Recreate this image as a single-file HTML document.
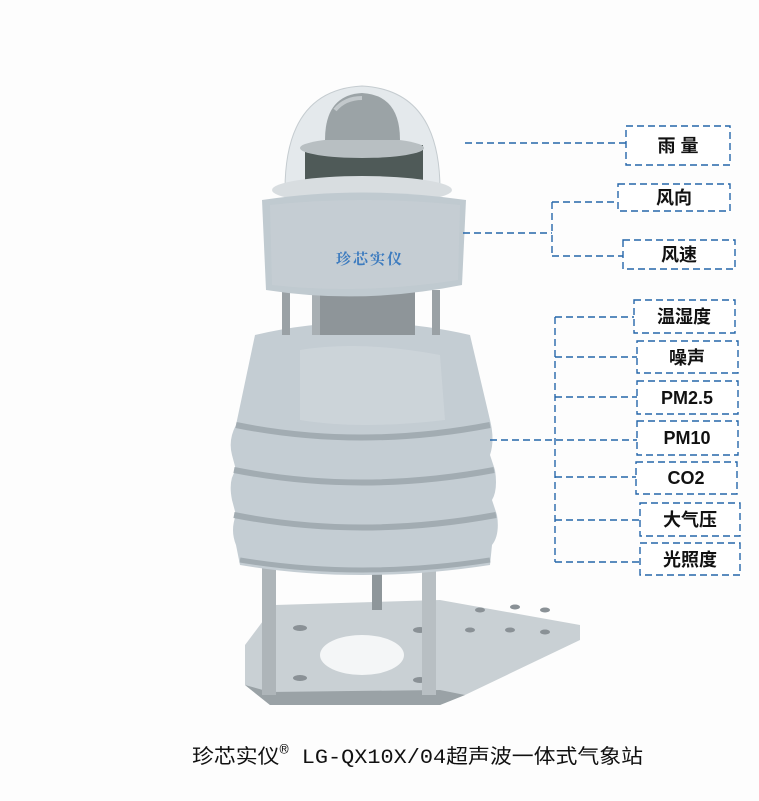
<!DOCTYPE html>
<html><head><meta charset="utf-8"><style>
html,body{margin:0;padding:0;background:#fdfdfd;}
svg{display:block}
.b{fill:#fff;stroke:#2566aa;stroke-width:1.4;stroke-dasharray:7,4}
.l{fill:none;stroke:#2566aa;stroke-width:1.4;stroke-dasharray:7,4}
.t{font-family:"Liberation Sans","Noto Sans CJK SC",sans-serif;font-weight:bold;font-size:18px;fill:#111;text-anchor:middle}
</style></head><body>
<svg width="759" height="801" viewBox="0 0 759 801" xmlns="http://www.w3.org/2000/svg">
<rect width="759" height="801" fill="#fdfdfd"/>
<!-- base plate -->
<polygon points="245,645 275,605 440,600 580,625 580,640 465,695 440,705 270,705 245,685" fill="#c9d0d4"/>
<polygon points="245,685 270,705 440,705 465,695 440,690 270,692" fill="#9aa2a6"/>
<ellipse cx="362" cy="655" rx="42" ry="20" fill="#f4f6f7"/>
<g fill="#8a9196">
<ellipse cx="480" cy="610" rx="5" ry="2.5"/><ellipse cx="515" cy="607" rx="5" ry="2.5"/><ellipse cx="545" cy="610" rx="5" ry="2.5"/>
<ellipse cx="470" cy="630" rx="5" ry="2.5"/><ellipse cx="510" cy="630" rx="5" ry="2.5"/><ellipse cx="545" cy="632" rx="5" ry="2.5"/>
<ellipse cx="300" cy="628" rx="7" ry="3"/><ellipse cx="420" cy="630" rx="7" ry="3"/><ellipse cx="300" cy="678" rx="7" ry="3"/><ellipse cx="420" cy="680" rx="7" ry="3"/>
</g>
<!-- legs -->
<rect x="262" y="565" width="14" height="130" fill="#aeb5b9"/>
<rect x="422" y="565" width="14" height="130" fill="#b8bfc3"/>
<rect x="372" y="570" width="10" height="40" fill="#8e969a"/>
<!-- body -->
<path d="M255,335 Q360,310 470,335 L490,420 Q495,440 490,455 L495,470 Q498,490 492,500 L497,515 Q500,535 492,545 L490,565 Q360,585 240,565 L236,545 Q230,530 236,515 L232,500 Q228,480 236,470 L232,455 Q228,440 236,425 Z" fill="#c4cdd3"/>
<path d="M236,425 Q360,450 490,425" fill="none" stroke="#a2acb2" stroke-width="6"/>
<path d="M234,470 Q360,495 494,470" fill="none" stroke="#a2acb2" stroke-width="6"/>
<path d="M234,515 Q360,540 496,515" fill="none" stroke="#a2acb2" stroke-width="6"/>
<path d="M240,560 Q360,580 490,560" fill="none" stroke="#a2acb2" stroke-width="5"/>
<path d="M300,350 Q360,340 440,355 L445,420 Q360,430 300,420 Z" fill="#d2d9dd" opacity="0.6"/>
<!-- gap + rods -->
<rect x="320" y="290" width="95" height="45" fill="#8e9599"/>
<rect x="282" y="290" width="8" height="45" fill="#9aa1a5"/>
<rect x="312" y="290" width="8" height="45" fill="#a8afb3"/>
<rect x="432" y="290" width="8" height="45" fill="#9aa1a5"/>
<!-- dome -->
<path d="M285,190 Q285,90 362,86 Q440,90 440,190 Z" fill="#e4e9ec" stroke="#c5ccd0"/>
<rect x="305" y="145" width="118" height="40" fill="#4f5a58"/>
<ellipse cx="362" cy="148" rx="62" ry="10" fill="#b8bfc2"/>
<path d="M325,140 Q325,95 362,93 Q400,95 400,140 Z" fill="#9ba3a6"/>
<path d="M335,110 Q345,98 362,98" fill="none" stroke="#c2c8cb" stroke-width="4"/>
<ellipse cx="362" cy="190" rx="90" ry="14" fill="#d8dde0"/>
<!-- top cylinder -->
<path d="M262,200 Q362,185 466,200 L462,285 Q362,305 266,290 Z" fill="#c0cad0"/>
<path d="M270,205 Q362,195 460,205 L458,280 Q362,295 272,285 Z" fill="#c7cfd4" opacity="0.7"/>
<text x="370" y="264" font-family="Liberation Serif,'Noto Serif CJK SC',serif" font-size="15" font-weight="bold" fill="#3c7bbf" text-anchor="middle" letter-spacing="2">珍芯实仪</text>
<!-- connectors -->
<path class="l" d="M465,143 H626"/>
<path class="l" d="M463,233 H552 M552,202 V256 M552,202 H618 M552,256 H623"/>
<path class="l" d="M490,440 H637 M555,317 V562 M555,317 H634 M555,357 H637 M555,397 H637 M555,477 H636 M555,520 H640 M555,562 H640"/>
<!-- boxes -->
<rect class="b" x="626" y="126" width="104" height="39"/><text class="t" x="678" y="152">雨 量</text>
<rect class="b" x="618" y="184" width="112" height="27"/><text class="t" x="674" y="204">风向</text>
<rect class="b" x="623" y="240" width="112" height="29"/><text class="t" x="679" y="261">风速</text>
<rect class="b" x="634" y="300" width="101" height="33"/><text class="t" x="684" y="323">温湿度</text>
<rect class="b" x="637" y="341" width="101" height="32"/><text class="t" x="687" y="364">噪声</text>
<rect class="b" x="637" y="381" width="101" height="33"/><text class="t" x="687" y="404">PM2.5</text>
<rect class="b" x="637" y="421" width="101" height="34"/><text class="t" x="687" y="444">PM10</text>
<rect class="b" x="636" y="462" width="101" height="32"/><text class="t" x="686" y="484">CO2</text>
<rect class="b" x="640" y="503" width="100" height="33"/><text class="t" x="690" y="526">大气压</text>
<rect class="b" x="640" y="543" width="100" height="32"/><text class="t" x="690" y="566">光照度</text>
<!-- caption -->
<text x="192" y="763" font-family="'Liberation Mono','Noto Sans CJK SC',monospace" font-size="20" fill="#111" textLength="451" lengthAdjust="spacingAndGlyphs">珍芯实仪<tspan font-size="14" dy="-9">®</tspan><tspan dy="9"> LG-QX10X/04超声波一体式气象站</tspan></text>
</svg>
</body></html>
